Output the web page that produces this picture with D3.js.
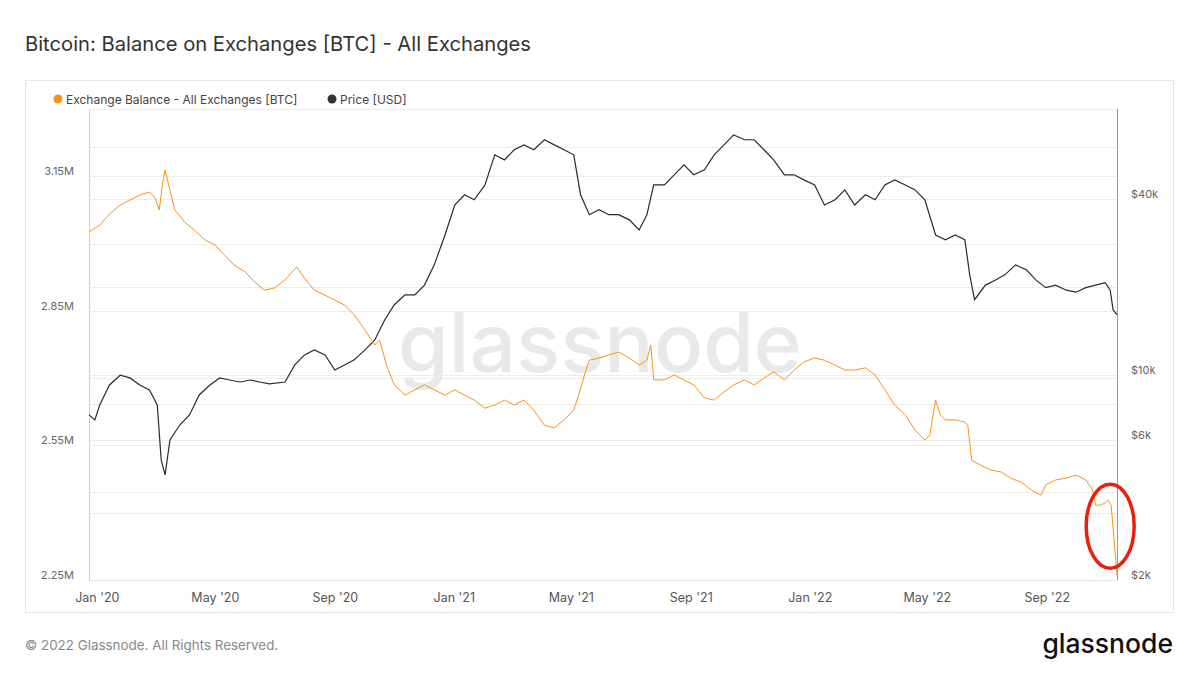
<!DOCTYPE html>
<html>
<head>
<meta charset="utf-8">
<script src="https://cdn.jsdelivr.net/npm/d3@7"></script>
<style>
  body { margin: 0; background: #fff; }
  text { font-family: Inter, "Open Sans", sans-serif; }
</style>
</head>
<body>
<div id="chart"></div>
<script>
// Exchange balance, BTC
const balanceDates = [
  "2019-12-24","2020-01-04","2020-01-14","2020-01-25","2020-02-04","2020-02-14","2020-02-24","2020-03-01",
  "2020-03-05","2020-03-09","2020-03-11","2020-03-16","2020-03-21","2020-03-31","2020-04-10","2020-04-21",
  "2020-05-01","2020-05-11","2020-05-21","2020-06-01","2020-06-11","2020-06-21","2020-07-01","2020-07-12",
  "2020-07-24","2020-08-01","2020-08-11","2020-08-22","2020-09-01","2020-09-11","2020-09-21","2020-10-02",
  "2020-10-12","2020-10-17","2020-10-24","2020-11-01","2020-11-12","2020-11-22","2020-12-02","2020-12-12",
  "2020-12-23","2021-01-02","2021-01-12","2021-01-22","2021-02-02","2021-02-12","2021-02-22","2021-03-04",
  "2021-03-14","2021-03-24","2021-04-04","2021-04-14","2021-04-24","2021-05-04","2021-05-09","2021-05-15",
  "2021-05-20","2021-05-30","2021-06-09","2021-06-19","2021-06-30","2021-07-10","2021-07-18","2021-07-22",
  "2021-07-25","2021-08-05","2021-08-15","2021-08-25","2021-09-04","2021-09-15","2021-09-25","2021-10-05",
  "2021-10-15","2021-10-26","2021-11-05","2021-11-15","2021-11-25","2021-12-06","2021-12-16","2021-12-26",
  "2022-01-06","2022-01-16","2022-01-27","2022-02-06","2022-02-16","2022-02-27","2022-03-09","2022-03-19",
  "2022-03-29","2022-04-09","2022-04-19","2022-04-29","2022-05-04","2022-05-10","2022-05-15","2022-05-20",
  "2022-05-30","2022-06-09","2022-06-12","2022-06-16","2022-06-25","2022-07-06","2022-07-16","2022-07-26",
  "2022-08-06","2022-08-16","2022-08-26","2022-08-31","2022-09-10","2022-09-21","2022-10-01","2022-10-11",
  "2022-10-18","2022-10-21","2022-10-26","2022-10-31","2022-11-03","2022-11-06","2022-11-12"
];
const balanceValues = [
  3.026,3.041,3.066,3.086,3.097,3.108,3.115,3.101,
  3.075,3.142,3.164,3.119,3.075,3.048,3.030,3.008,
  2.997,2.974,2.952,2.937,2.914,2.896,2.901,2.919,
  2.948,2.923,2.896,2.885,2.874,2.863,2.841,2.807,
  2.774,2.785,2.729,2.685,2.662,2.674,2.685,2.674,
  2.662,2.674,2.662,2.651,2.633,2.640,2.651,2.640,
  2.651,2.629,2.595,2.589,2.607,2.629,2.662,2.707,
  2.740,2.745,2.752,2.758,2.745,2.729,2.740,2.774,
  2.696,2.696,2.707,2.696,2.685,2.656,2.651,2.669,
  2.685,2.696,2.685,2.700,2.714,2.696,2.718,2.736,
  2.745,2.740,2.729,2.718,2.718,2.723,2.707,2.674,
  2.640,2.618,2.584,2.562,2.573,2.651,2.618,2.607,
  2.607,2.602,2.595,2.517,2.506,2.495,2.491,2.477,
  2.468,2.451,2.439,2.462,2.473,2.477,2.484,2.473,
  2.451,2.417,2.417,2.422,2.428,2.417,2.261
];

// Price, USD
const priceDates = [
  "2019-12-24","2019-12-30","2020-01-04","2020-01-14","2020-01-25","2020-02-04","2020-02-14","2020-02-24",
  "2020-03-03","2020-03-07","2020-03-11","2020-03-16","2020-03-26","2020-04-05","2020-04-15","2020-04-26",
  "2020-05-06","2020-05-16","2020-05-27","2020-06-06","2020-06-16","2020-06-26","2020-07-12","2020-07-22",
  "2020-08-01","2020-08-11","2020-08-22","2020-09-01","2020-09-11","2020-09-21","2020-10-02","2020-10-12",
  "2020-10-22","2020-11-01","2020-11-12","2020-11-22","2020-12-02","2020-12-12","2020-12-23","2021-01-02",
  "2021-01-12","2021-01-22","2021-02-02","2021-02-12","2021-02-22","2021-03-04","2021-03-14","2021-03-24",
  "2021-04-04","2021-04-14","2021-04-24","2021-05-04","2021-05-11","2021-05-20","2021-05-30","2021-06-09",
  "2021-06-19","2021-06-30","2021-07-10","2021-07-18","2021-07-25","2021-08-05","2021-08-15","2021-08-25",
  "2021-09-04","2021-09-15","2021-09-25","2021-10-05","2021-10-15","2021-10-26","2021-11-05","2021-11-15",
  "2021-11-25","2021-12-06","2021-12-16","2021-12-26","2022-01-06","2022-01-16","2022-01-27","2022-02-06",
  "2022-02-16","2022-02-27","2022-03-09","2022-03-19","2022-03-29","2022-04-09","2022-04-19","2022-04-29",
  "2022-05-10","2022-05-20","2022-05-30","2022-06-09","2022-06-14","2022-06-19","2022-06-30","2022-07-10",
  "2022-07-20","2022-07-31","2022-08-11","2022-08-21","2022-08-31","2022-09-10","2022-09-21","2022-10-01",
  "2022-10-11","2022-10-21","2022-10-31","2022-11-05","2022-11-08","2022-11-12"
];
const priceValues = [
  7320,7040,7920,9260,10000,9790,9260,8910,
  7920,5140,4570,6010,6760,7320,8560,9260,
  9790,9630,9480,9630,9480,9340,9480,10840,
  11730,12200,11730,10420,10840,11280,12200,13190,
  15400,17400,18800,18800,20300,23800,30100,38100,
  41300,39700,44600,56500,54300,58800,61100,58800,
  63600,61100,58800,56500,41300,35300,36700,35300,
  35300,33900,31300,35300,44600,44600,48300,52200,
  48300,50200,56500,61100,66100,63600,63600,58800,
  54300,48300,48300,46400,44600,38100,39700,42900,
  38100,41300,39700,44600,46400,44600,42900,39700,
  30100,29000,30100,29000,22000,18100,20300,21100,
  22000,23800,22900,21100,19900,20300,19500,19200,
  19900,20300,20700,19500,16700,16100
];

// Axis ticks
const balanceGridTicks = [2.25, 2.40, 2.55, 2.70, 2.85, 3.00, 3.15, 3.30];
const balanceLabelTicks = [2.25, 2.55, 2.85, 3.15];
const priceGridTicks = [2000, 4000, 6000, 8000, 10000, 20000, 40000, 60000];
const priceLabelTicks = [2000, 6000, 10000, 40000];

const parse = d3.timeParse("%Y-%m-%d");
const balance = balanceDates.map((d, i) => ({ date: parse(d), value: balanceValues[i] }));
const price = priceDates.map((d, i) => ({ date: parse(d), value: priceValues[i] }));

const width = 1199, height = 675;
const plot = { left: 89, right: 1117, top: 109, bottom: 580 };

const svg = d3.select("#chart").append("svg")
  .attr("width", width)
  .attr("height", height);

// Title
svg.append("text")
  .attr("x", 25).attr("y", 51)
  .attr("font-size", 20.2)
  .attr("fill", "#333")
  .text("Bitcoin: Balance on Exchanges [BTC] - All Exchanges");

// Chart frame
svg.append("rect")
  .attr("x", 25.5).attr("y", 80.5)
  .attr("width", 1148).attr("height", 532)
  .attr("fill", "none")
  .attr("stroke", "#e6e6e6");

// Scales
const x = d3.scaleTime()
  .domain([parse("2019-12-24"), parse("2022-11-12")])
  .range([plot.left, plot.right]);

const yLeft = d3.scaleLinear()
  .domain([2.25, 3.30])
  .range([plot.bottom, plot.top]);

const yRight = d3.scaleLog()
  .domain([2000, 81000])
  .range([plot.bottom, plot.top]);

// Gridlines
svg.append("g")
  .selectAll("line")
  .data(balanceGridTicks)
  .enter().append("line")
  .attr("x1", plot.left).attr("x2", plot.right)
  .attr("y1", d => Math.round(yLeft(d)) + 0.5)
  .attr("y2", d => Math.round(yLeft(d)) + 0.5)
  .attr("stroke", "#ececec");

svg.append("g")
  .selectAll("line")
  .data(priceGridTicks)
  .enter().append("line")
  .attr("x1", plot.left).attr("x2", plot.right)
  .attr("y1", d => Math.round(yRight(d)) + 0.5)
  .attr("y2", d => Math.round(yRight(d)) + 0.5)
  .attr("stroke", "#ececec");

// Watermark
svg.append("text")
  .attr("x", 600).attr("y", 372)
  .attr("text-anchor", "middle")
  .attr("font-size", 82)
  .attr("font-weight", 500)
  .attr("fill", "#e9e9e9")
  .text("glassnode");

// X axis
const xTicks = x.ticks(d3.timeMonth.every(4));
const xAxis = svg.append("g")
  .attr("transform", `translate(0,${plot.bottom})`)
  .call(d3.axisBottom(x).tickValues(xTicks).tickFormat(d3.timeFormat("%b '%y")).tickSize(0).tickPadding(13));
xAxis.select(".domain").attr("stroke", "#e6e6e6");
xAxis.selectAll("text").attr("font-size", 12.5).attr("fill", "#555").style("font-family", "Inter, sans-serif");

// Left axis labels
svg.append("g")
  .selectAll("text")
  .data(balanceLabelTicks)
  .enter().append("text")
  .attr("x", 74)
  .attr("y", d => yLeft(d) - 5)
  .attr("dominant-baseline", "central")
  .attr("text-anchor", "end")
  .attr("font-size", 11)
  .attr("fill", "#666")
  .text(d => d.toFixed(2) + "M");

// Right axis labels
svg.append("g")
  .selectAll("text")
  .data(priceLabelTicks)
  .enter().append("text")
  .attr("x", 1131)
  .attr("y", d => yRight(d) - 5)
  .attr("dominant-baseline", "central")
  .attr("font-size", 11)
  .attr("fill", "#666")
  .text(d => "$" + d / 1000 + "k");

// Axis lines
svg.append("line")
  .attr("x1", plot.left + 0.5).attr("x2", plot.left + 0.5)
  .attr("y1", plot.top).attr("y2", plot.bottom)
  .attr("stroke", "#f7c98a");

svg.append("line")
  .attr("x1", plot.right + 0.5).attr("x2", plot.right + 0.5)
  .attr("y1", plot.top).attr("y2", plot.bottom)
  .attr("stroke", "#999");

// Lines
const balanceLine = d3.line()
  .x(d => x(d.date))
  .y(d => yLeft(d.value));

const priceLine = d3.line()
  .x(d => x(d.date))
  .y(d => yRight(d.value));

svg.append("path")
  .datum(price)
  .attr("d", priceLine)
  .attr("fill", "none")
  .attr("stroke", "#2b2b2b")
  .attr("stroke-width", 1.2);

svg.append("path")
  .datum(balance)
  .attr("d", balanceLine)
  .attr("fill", "none")
  .attr("stroke", "#f7931a")
  .attr("stroke-width", 1);

// Legend
const legend = [
  { label: "Exchange Balance - All Exchanges [BTC]", color: "#f7931a", x: 58 },
  { label: "Price [USD]", color: "#333", x: 332 }
];
legend.forEach(l => {
  svg.append("circle")
    .attr("cx", l.x).attr("cy", 99).attr("r", 4.5)
    .attr("fill", l.color);
  svg.append("text")
    .attr("x", l.x + 8).attr("y", 99)
    .attr("dominant-baseline", "central")
    .attr("font-size", 12)
    .attr("fill", "#444")
    .text(l.label);
});

// Red annotation around the last drop
svg.append("ellipse")
  .attr("cx", x(parse("2022-11-05")))
  .attr("cy", yLeft(2.37))
  .attr("rx", 24).attr("ry", 42)
  .attr("fill", "none")
  .attr("stroke", "#e8200c")
  .attr("stroke-width", 3.5);

// Footer
svg.append("text")
  .attr("x", 25).attr("y", 650)
  .attr("font-size", 13.4)
  .attr("fill", "#888")
  .text("© 2022 Glassnode. All Rights Reserved.");

svg.append("text")
  .attr("x", 1173).attr("y", 653)
  .attr("text-anchor", "end")
  .attr("font-size", 26.5)
  .attr("font-weight", 500)
  .attr("fill", "#111")
  .text("glassnode");
</script>
</body>
</html>
